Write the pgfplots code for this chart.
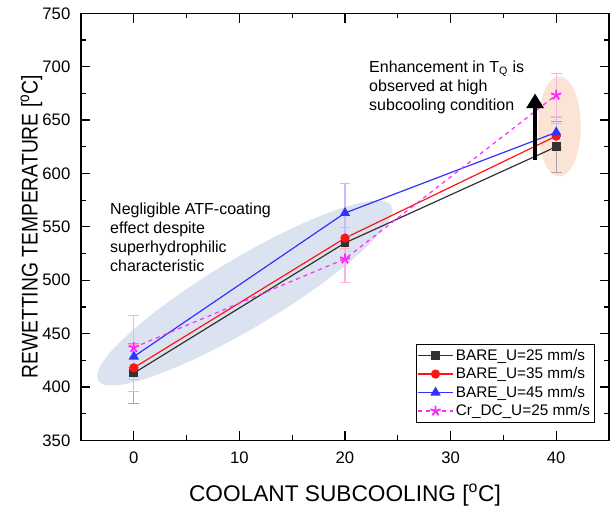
\documentclass[border=0pt]{standalone}
\usepackage{pgfplots}
\pgfplotsset{compat=1.18}
\usetikzlibrary{arrows.meta}
\usepackage{fontspec}
\setmainfont{Liberation Sans}
\definecolor{cblack}{RGB}{50,50,50}
\definecolor{cred}{RGB}{255,20,20}
\definecolor{cblue}{RGB}{50,50,255}
\definecolor{cmag}{RGB}{255,40,255}
\definecolor{ellblue}{RGB}{220,227,240}
\definecolor{ellorange}{RGB}{251,228,214}
\begin{document}
\begin{tikzpicture}
\begin{axis}[
  scale only axis,
  width=396pt, height=320.3pt,
  xmin=-5, xmax=45, ymin=350, ymax=750,
  xtick={0,10,20,30,40}, ytick={350,400,...,750},
  minor x tick num=1, minor y tick num=1,
  tick align=inside,
  major tick length=7pt, minor tick length=3.75pt,
  tick style={black, line width=0.9pt},
  axis line style={line width=1pt},
  every tick label/.append style={font=\fontsize{12.5}{14}\selectfont},
  yticklabel style={xshift=-4.5pt},
  xticklabel style={yshift=-5pt},
  /pgf/number format/assume math mode=true,
  xlabel={COOLANT SUBCOOLING [\textsuperscript{o}C]},
  ylabel={\scalebox{0.85}[1]{REWETTING TEMPERATURE [\textsuperscript{o}C]}},
  label style={font=\fontsize{17}{20}\selectfont},
  xlabel style={at={(axis description cs:0.5,-0.142)}, anchor=base},
  ylabel style={at={(axis description cs:-0.0823,0.5)}, anchor=base},
  legend style={at={(rel axis cs:0.9735,0.042)}, anchor=south east, font=\fontsize{11.5}{13}\selectfont, draw=black, fill=white, row sep=0pt, inner sep=1.5pt},
  legend cell align=left,
  legend image code/.code={\draw[mark repeat=2,mark phase=2] plot coordinates {(0cm,0cm) (0.45cm,0cm) (0.9cm,0cm)};},
  error bars/y dir=both, error bars/y explicit,
  error bars/error mark options={rotate=90, mark size=4pt},
]
\fill[ellblue, rotate around={30.85:(axis cs:10.5,488)}] (axis cs:10.5,488) ellipse [x radius=128pt, y radius=26pt];
\fill[ellorange] (axis cs:40.3,644) ellipse [x radius=16pt, y radius=37.5pt];

\addplot[cblack, line width=0.9pt, mark=square*, mark size=2.8pt, error bars/error bar style={black!35, line width=0.8pt}]
  coordinates {(0,413) +- (0,28) (20,535) +- (0,15) (40,625) +- (0,24)};
\addlegendentry{BARE\_U=25 mm/s}
\addplot[cred, line width=0.9pt, mark=*, mark size=3pt, error bars/error bar style={red!30, line width=0.8pt}]
  coordinates {(0,418) +- (0,22) (20,539.5) +- (0,10) (40,635) +- (0,12)};
\addlegendentry{BARE\_U=35 mm/s}
\addplot[cblue, line width=0.9pt, mark=triangle*, mark size=3.6pt, error bars/error bar style={blue!25, line width=0.8pt}]
  coordinates {(0,428.5) +- (0,10) (20,563) +- (0,27.5) (40,638.5) +- (0,14)};
\addlegendentry{BARE\_U=45 mm/s}
\addplot[cmag, line width=0.9pt, dashed, mark=star, mark size=4pt, mark options={solid, line width=1.4pt}, error bars/error bar style={magenta!30, line width=0.8pt, solid}]
  coordinates {(0,437) +- (0,30) (20,520) +- (0,22) (40,673.5) +- (0,20)};
\addlegendentry{Cr\_DC\_U=25 mm/s}

\draw[line width=3.6pt, -{Triangle[width=12.5pt, length=11pt]}] (axis cs:38,613) -- (axis cs:38,675);

\node[anchor=north west, align=left, font=\fontsize{12}{14.2}\selectfont, inner sep=0pt] at (axis cs:-2.26,572.7) {Negligible ATF-coating\\effect despite\\superhydrophilic\\characteristic};
\node[anchor=north west, align=left, font=\fontsize{12}{14.3}\selectfont, inner sep=0pt] at (axis cs:22.27,705.6) {Enhancement in T\textsubscript{Q} is\\observed at high\\subcooling condition};
\end{axis}
\pgfresetboundingbox
\path[use as bounding box] ([shift={(-60.75pt,-48.75pt)}]current axis.south west) rectangle ([shift={(3pt,10pt)}]current axis.north east);
\end{tikzpicture}
\end{document}
